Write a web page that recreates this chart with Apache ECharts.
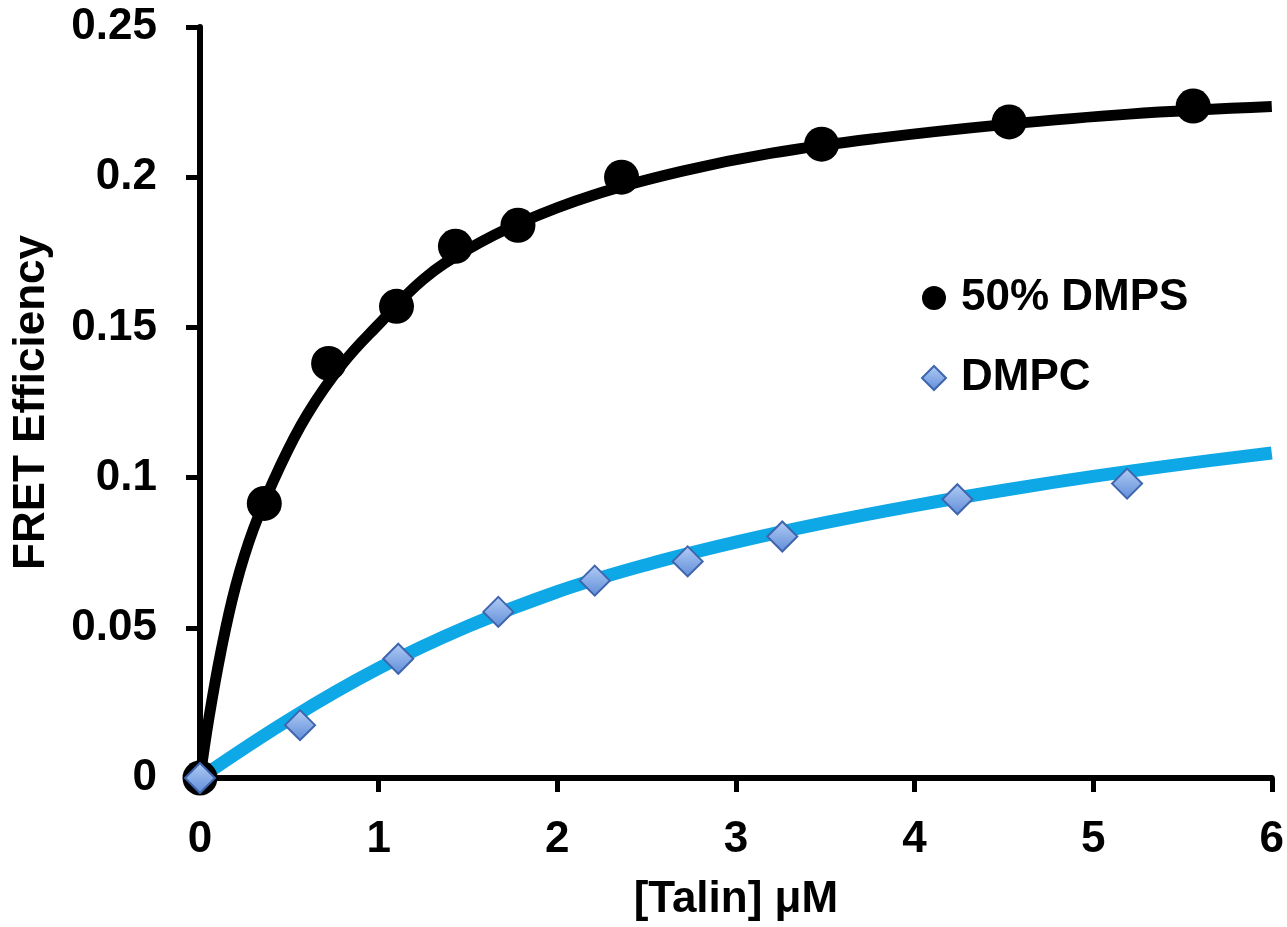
<!DOCTYPE html>
<html>
<head>
<meta charset="utf-8">
<script src="https://cdn.jsdelivr.net/npm/echarts@6/dist/echarts.min.js"></script>
<style>
  html, body { margin: 0; padding: 0; background: #fff; }
  #chart { width: 1287px; height: 927px; }
</style>
</head>
<body>
<div id="chart"></div>
<script>
// measured points, [Talin] in uM vs FRET efficiency
var dmpsX = [0, 0.36, 0.72, 1.10, 1.43, 1.78, 2.36, 3.48, 4.53, 5.56];
var dmpsY = [0, 0.0914, 0.138, 0.157, 0.177, 0.184, 0.200, 0.211, 0.2184, 0.2237];

var dmpcX = [0, 0.56, 1.11, 1.67, 2.21, 2.73, 3.26, 4.24, 5.19];
var dmpcY = [0, 0.0176, 0.0397, 0.0553, 0.0657, 0.0721, 0.0804, 0.0928, 0.098];

// fitted curves
var dmpsFitX = [0, 0.05, 0.12, 0.2, 0.3, 0.45, 0.6, 0.8, 1.0, 1.25, 1.5, 1.8, 2.2, 2.7, 3.2, 3.8, 4.5, 5.2, 6.0];
var dmpsFitY = [0, 0.020, 0.043, 0.064, 0.083, 0.104, 0.121, 0.138, 0.151, 0.166, 0.176, 0.185, 0.194, 0.202, 0.208, 0.213, 0.2175, 0.221, 0.2235];

var dmpcFitX = [0, 0.5, 1.0, 1.5, 2.0, 2.5, 3.0, 3.5, 4.0, 4.5, 5.0, 5.5, 6.0];
var dmpcFitY = [0, 0.0195, 0.0365, 0.0505, 0.062, 0.071, 0.0785, 0.085, 0.0907, 0.0958, 0.1004, 0.1045, 0.1082];

var yTicks = ['0', '0.05', '0.1', '0.15', '0.2', '0.25'];

function pairs(xs, ys) {
  return xs.map(function (x, i) { return [x, ys[i]]; });
}

var font = '"Liberation Sans", Arial, sans-serif';
var myChart = echarts.init(document.getElementById('chart'));

var diamondFill = new echarts.graphic.LinearGradient(0, 0, 0, 1, [
  { offset: 0, color: '#b3cdf5' },
  { offset: 1, color: '#5f8cd8' }
]);

var option = {
  backgroundColor: '#fff',
  animation: false,
  grid: { left: 200, right: 15, top: 27, bottom: 148 },
  legend: {
    orient: 'vertical',
    left: 916,
    top: 271,
    itemWidth: 24,
    itemHeight: 24,
    itemGap: 36,
    textStyle: { fontFamily: font, fontWeight: 'bold', fontSize: 44, color: '#000', padding: [0, 0, 0, 10] },
    data: [
      { name: '50% DMPS', icon: 'circle' },
      { name: 'DMPC', icon: 'diamond' }
    ]
  },
  xAxis: {
    type: 'value',
    min: 0,
    max: 6,
    interval: 1,
    name: '[Talin] \u03bcM',
    nameLocation: 'middle',
    nameGap: 100,
    nameTextStyle: { fontFamily: font, fontWeight: 'bold', fontSize: 44, color: '#000' },
    axisLine: { lineStyle: { color: '#000', width: 6 } },
    axisTick: { inside: false, length: 14, lineStyle: { color: '#000', width: 5 } },
    axisLabel: { margin: 40, fontFamily: font, fontWeight: 'bold', fontSize: 44, color: '#000' },
    splitLine: { show: false }
  },
  yAxis: {
    type: 'value',
    min: 0,
    max: 0.25,
    interval: 0.05,
    name: 'FRET Efficiency',
    nameLocation: 'middle',
    nameGap: 146,
    nameTextStyle: { fontFamily: font, fontWeight: 'bold', fontSize: 44, color: '#000' },
    axisLine: { lineStyle: { color: '#000', width: 6 } },
    axisTick: { inside: false, length: 14, lineStyle: { color: '#000', width: 5 } },
    axisLabel: {
      margin: 43,
      padding: [10, 0, 0, 0],
      fontFamily: font, fontWeight: 'bold', fontSize: 44, color: '#000',
      formatter: function (v) { return yTicks[Math.round(v / 0.05)]; }
    },
    splitLine: { show: false }
  },
  series: [
    {
      name: 'DMPC fit',
      type: 'line',
      data: pairs(dmpcFitX, dmpcFitY),
      smooth: 0.4,
      showSymbol: false,
      lineStyle: { color: '#0fa8e6', width: 13 },
      z: 2
    },
    {
      name: '50% DMPS fit',
      type: 'line',
      data: pairs(dmpsFitX, dmpsFitY),
      smooth: 0.4,
      showSymbol: false,
      lineStyle: { color: '#000', width: 11 },
      z: 3
    },
    {
      name: '50% DMPS',
      type: 'scatter',
      data: pairs(dmpsX, dmpsY),
      symbol: 'circle',
      symbolSize: 35,
      itemStyle: { color: '#000', opacity: 1 },
      z: 4
    },
    {
      name: 'DMPC',
      type: 'scatter',
      data: pairs(dmpcX, dmpcY),
      symbol: 'diamond',
      symbolSize: 30,
      itemStyle: { color: diamondFill, borderColor: '#3e65ad', borderWidth: 2, opacity: 1 },
      z: 5
    }
  ]
};

myChart.setOption(option);
</script>
</body>
</html>
